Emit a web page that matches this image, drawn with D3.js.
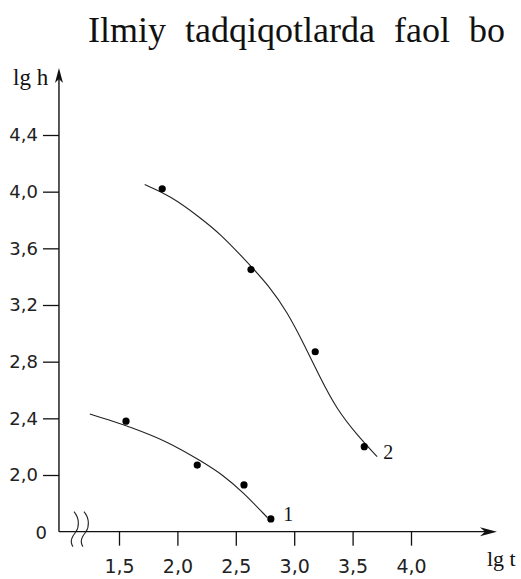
<!DOCTYPE html>
<html>
<head>
<meta charset="utf-8">
<script src="https://cdn.jsdelivr.net/npm/d3@7"></script>
<style>
  body { margin: 0; background: #fff; }
  svg { display: block; }
</style>
</head>
<body>
<div id="chart"></div>
<script>
const width = 521;
const height = 579;

// tick values and their printed labels (comma decimals as in the source)
const xTicks = [1.5, 2.0, 2.5, 3.0, 3.5, 4.0];
const xTickLabels = ["1,5", "2,0", "2,5", "3,0", "3,5", "4,0"];
const yTicks = [2.0, 2.4, 2.8, 3.2, 3.6, 4.0, 4.4];
const yTickLabels = ["2,0", "2,4", "2,8", "3,2", "3,6", "4,0", "4,4"];

// measured points, lg t vs lg h
const series1X = [1.56, 2.17, 2.57, 2.80];
const series1Y = [2.38, 2.07, 1.93, 1.69];
const series2X = [1.87, 2.63, 3.18, 3.60];
const series2Y = [4.02, 3.45, 2.87, 2.20];

// smoothed curves drawn through the points
const curve1X = [1.25, 1.45, 1.59, 1.91, 2.22, 2.39, 2.56, 2.77];
const curve1Y = [2.43, 2.38, 2.34, 2.24, 2.09, 2.00, 1.88, 1.70];
const curve2X = [1.72, 1.94, 2.19, 2.37, 2.59, 2.79, 2.94, 3.08, 3.22, 3.36, 3.54, 3.71];
const curve2Y = [4.05, 3.97, 3.82, 3.70, 3.51, 3.33, 3.15, 2.93, 2.69, 2.47, 2.28, 2.13];

const curveNames = ["1", "2"];

const x = d3.scaleLinear().domain([1.5, 4.0]).range([119, 411]);
const y = d3.scaleLinear().domain([2.0, 4.4]).range([475, 135]);

// broken axes: origin sits below/left of the real data range
const x0 = x(0.986);
const y0 = y(1.6);
const xEnd = x(4.736);
const yEnd = y(4.873);

const svg = d3.select("#chart").append("svg")
    .attr("width", width)
    .attr("height", height);

svg.append("rect").attr("width", width).attr("height", height).attr("fill", "#fff");

// heading line of the page text
svg.append("text")
    .attr("x", 88)
    .attr("y", 42)
    .style("font-family", "'Liberation Serif', 'Times New Roman', serif")
    .style("font-size", "36px")
    .style("word-spacing", "10px")
    .attr("fill", "#111")
    .text("Ilmiy tadqiqotlarda faol bo");

const axisColor = "#111";

// x axis
const xAxis = svg.append("g")
    .attr("transform", `translate(0,${y0})`)
    .call(d3.axisBottom(x).tickValues(xTicks)
        .tickFormat((d, i) => xTickLabels[i])
        .tickSize(14).tickPadding(13.5));

// y axis
const yAxis = svg.append("g")
    .attr("transform", `translate(${x0},0)`)
    .call(d3.axisLeft(y).tickValues(yTicks)
        .tickFormat((d, i) => yTickLabels[i])
        .tickSize(16).tickPadding(5));

[xAxis, yAxis].forEach(g => {
    g.select(".domain").remove();
    g.selectAll("line").attr("stroke", axisColor).attr("stroke-width", 1.3);
    g.selectAll("text")
        .style("font-family", "'DejaVu Sans', sans-serif")
        .attr("fill", "#222");
});
xAxis.selectAll("text").style("font-size", "19px");
yAxis.selectAll("text").style("font-size", "18px");

// axis lines
svg.append("line")
    .attr("x1", x0).attr("y1", y0).attr("x2", xEnd - 6).attr("y2", y0)
    .attr("stroke", axisColor).attr("stroke-width", 1.4);
svg.append("line")
    .attr("x1", x0).attr("y1", y0).attr("x2", x0).attr("y2", yEnd + 6)
    .attr("stroke", axisColor).attr("stroke-width", 1.4);

// arrow heads
svg.append("path")
    .attr("d", `M${xEnd},${y0} L${xEnd - 17},${y0 - 4.5} L${xEnd - 12},${y0} L${xEnd - 17},${y0 + 4.5} Z`)
    .attr("fill", axisColor);
svg.append("path")
    .attr("d", `M${x0},${yEnd} L${x0 - 4},${yEnd + 15} L${x0},${yEnd + 11} L${x0 + 4},${yEnd + 15} Z`)
    .attr("fill", axisColor);

// axis break marks
[0, 10].forEach(dx => {
    const bx = x0 + 15 + dx;
    svg.append("path")
        .attr("d", `M${bx},${y0 - 20} C${bx + 6},${y0 - 13} ${bx + 5},${y0 - 4} ${bx + 2},${y0}` +
                   ` C${bx - 1},${y0 + 4} ${bx - 5},${y0 + 9} ${bx - 1},${y0 + 15}`)
        .attr("fill", "none")
        .attr("stroke", "#222")
        .attr("stroke-width", 1.1);
});

// origin label
svg.append("text")
    .attr("x", 47).attr("y", y0 + 7)
    .attr("text-anchor", "end")
    .style("font-family", "'DejaVu Sans', sans-serif")
    .style("font-size", "18px")
    .attr("fill", "#222")
    .text("0");

// axis titles
const serif = "'Liberation Serif', 'Times New Roman', serif";
svg.append("text")
    .attr("x", 13).attr("y", 85)
    .style("font-family", serif).style("font-size", "23px")
    .attr("fill", "#111")
    .text("lg h");
svg.append("text")
    .attr("x", 487).attr("y", 566)
    .style("font-family", serif).style("font-size", "22px")
    .attr("fill", "#111")
    .text("lg t");

// curves
const line = d3.line()
    .x(d => x(d[0]))
    .y(d => y(d[1]))
    .curve(d3.curveBasis);

const curves = [
    { xs: curve1X, ys: curve1Y, dx: 16, dy: 3 },
    { xs: curve2X, ys: curve2Y, dx: 6, dy: 2 }
];

curves.forEach((c, i) => {
    const pts = c.xs.map((v, j) => [v, c.ys[j]]);
    svg.append("path")
        .attr("d", line(pts))
        .attr("fill", "none")
        .attr("stroke", "#222")
        .attr("stroke-width", 1.1);

    const last = pts[pts.length - 1];
    svg.append("text")
        .attr("x", x(last[0]) + c.dx)
        .attr("y", y(last[1]) + c.dy)
        .style("font-family", serif)
        .style("font-size", "20px")
        .attr("fill", "#111")
        .text(curveNames[i]);
});

// measured points
const points = series1X.map((v, i) => [v, series1Y[i]])
    .concat(series2X.map((v, i) => [v, series2Y[i]]));

svg.selectAll("circle.pt")
    .data(points)
    .enter()
    .append("circle")
    .attr("class", "pt")
    .attr("cx", d => x(d[0]))
    .attr("cy", d => y(d[1]))
    .attr("r", 3.6)
    .attr("fill", "#000");
</script>
</body>
</html>
